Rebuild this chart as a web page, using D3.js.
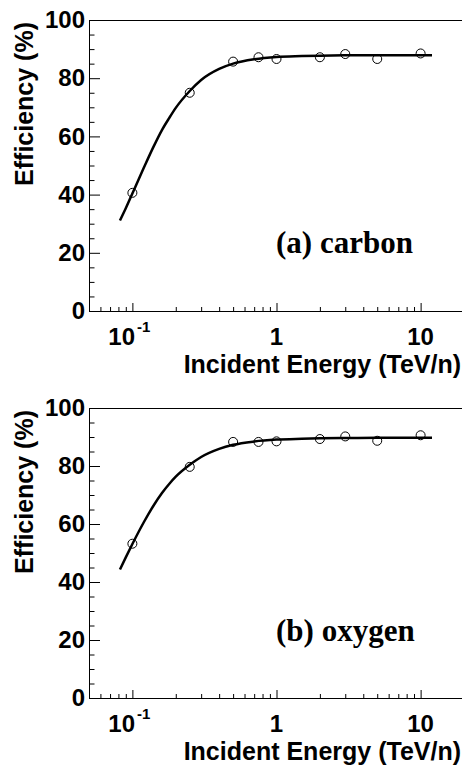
<!DOCTYPE html>
<html>
<head>
<meta charset="utf-8">
<script src="https://cdn.jsdelivr.net/npm/d3@7"></script>
<style>
	body { margin: 0; background: #fff; }
	svg { display: block; }
</style>
</head>
<body>
<div class="chart"></div>
<script>
// measured points (incident energy in TeV/n, efficiency in %)
const energies = [0.1, 0.25, 0.5, 0.75, 1, 2, 3, 5, 10];
const carbonEff = [40.6, 75.0, 85.7, 87.2, 86.6, 87.2, 88.3, 86.6, 88.5];
const oxygenEff = [53.2, 79.7, 88.3, 88.3, 88.5, 89.3, 90.2, 88.7, 90.6];

// fitted curves
const fitEnergies = [0.082, 0.09, 0.1, 0.12, 0.14, 0.16, 0.18, 0.2, 0.25, 0.3, 0.4, 0.5, 0.7, 1, 1.5, 2, 3, 5, 12];
const carbonFit = [31.1, 35.3, 40.4, 49.2, 56.4, 62.1, 66.3, 69.8, 75.6, 79.4, 83.2, 85.0, 86.5, 87.3, 87.6, 87.75, 87.85, 87.9, 87.9];
const oxygenFit = [44.3, 48.5, 53.1, 60.6, 66.3, 70.6, 73.8, 76.3, 80.4, 83.1, 85.9, 87.3, 88.45, 89.1, 89.4, 89.55, 89.63, 89.7, 89.7];

const panelLabels = ['(a) carbon', '(b) oxygen'];

// ticks
const xMajor = [0.1, 1, 10];
const xMinor = [0.06, 0.07, 0.08, 0.09, 0.2, 0.3, 0.4, 0.5, 0.6, 0.7, 0.8, 0.9, 2, 3, 4, 5, 6, 7, 8, 9];
const xTickText = ['10', '1', '10'];
const xTickExp = ['-1', '', ''];
const yMajor = [0, 20, 40, 60, 80, 100];
const yMinor = [5, 10, 15, 25, 30, 35, 45, 50, 55, 65, 70, 75, 85, 90, 95];

let w = 462;
let h = 766;
let left = 89;
let right = 464;
let sans = "'Liberation Sans', Arial, Helvetica, sans-serif";
let serif = "'Liberation Serif', 'Times New Roman', serif";

let svg = d3.select('.chart').append('svg').attr('width', w).attr('height', h);

let xScale = d3.scaleLog().domain([ 0.05, 20 ]).range([ left, right ]);

let panels = [
	{ top: 20, bottom: 311, eff: carbonEff, fit: carbonFit, label: panelLabels[0] },
	{ top: 408, bottom: 698, eff: oxygenEff, fit: oxygenFit, label: panelLabels[1] }
];

panels.forEach(function(p) {
	let yScale = d3.scaleLinear().domain([ 0, 100 ]).range([ p.bottom, p.top ]);
	let g = svg.append('g');

	// frame top and right
	g
		.append('path')
		.attr('d', 'M' + left + ',' + (p.top + 0.5) + 'H' + (right + 0.5) + 'V' + p.bottom)
		.attr('fill', 'none')
		.attr('stroke', '#000')
		.attr('stroke-width', 1);

	// y axis, ticks pointing inside
	g
		.append('g')
		.attr('transform', 'translate(' + left + ',0)')
		.call(d3.axisLeft(yScale).tickValues(yMinor).tickSize(-5.5).tickSizeOuter(0).tickFormat(''));
	g
		.append('g')
		.attr('transform', 'translate(' + left + ',0)')
		.attr('class', 'yaxis')
		.call(d3.axisLeft(yScale).tickValues(yMajor).tickSize(-11).tickSizeOuter(0).tickPadding(4));

	// x axis
	g
		.append('g')
		.attr('transform', 'translate(0,' + p.bottom + ')')
		.call(d3.axisBottom(xScale).tickValues(xMinor).tickSize(-4).tickSizeOuter(0).tickFormat(''));
	g
		.append('g')
		.attr('transform', 'translate(0,' + p.bottom + ')')
		.call(d3.axisBottom(xScale).tickValues(xMajor).tickSize(-8).tickSizeOuter(0).tickFormat(''));

	g.selectAll('.domain, .tick line').attr('stroke', '#000');
	g
		.selectAll('.yaxis text')
		.attr('font-family', sans)
		.attr('font-weight', 'bold')
		.attr('font-size', '24px')
		.attr('fill', '#000');

	// x tick labels
	let xl = g
		.selectAll('.xlab')
		.data(xMajor)
		.enter()
		.append('text')
		.attr('class', 'xlab')
		.attr('x', (d, i) => xScale(d) + (xTickExp[i] ? -3 : 0))
		.attr('y', p.bottom + 34)
		.attr('text-anchor', 'middle')
		.attr('font-family', sans)
		.attr('font-weight', 'bold')
		.attr('font-size', '24px');
	xl.append('tspan').text((d, i) => xTickText[i]);
	xl
		.append('tspan')
		.attr('dx', 2)
		.attr('dy', -13)
		.attr('font-size', '15px')
		.text((d, i) => xTickExp[i]);

	// axis titles
	g
		.append('text')
		.attr('x', 461)
		.attr('y', p.bottom + 62)
		.attr('text-anchor', 'end')
		.attr('font-family', sans)
		.attr('font-weight', 'bold')
		.attr('font-size', '25px')
		.text('Incident Energy (TeV/n)');

	g
		.append('text')
		.attr('transform', 'translate(33,' + (p.top + 2) + ') rotate(-90)')
		.attr('text-anchor', 'end')
		.attr('font-family', sans)
		.attr('font-weight', 'bold')
		.attr('font-size', '25px')
		.text('Efficiency (%)');

	// fitted curve
	let line = d3
		.line()
		.x((d, i) => xScale(fitEnergies[i]))
		.y((d) => yScale(d))
		.curve(d3.curveMonotoneX);
	g
		.append('path')
		.attr('d', line(p.fit))
		.attr('fill', 'none')
		.attr('stroke', '#000')
		.attr('stroke-width', 2.5);

	// data points
	g
		.selectAll('circle')
		.data(p.eff)
		.enter()
		.append('circle')
		.attr('cx', (d, i) => xScale(energies[i]))
		.attr('cy', (d) => yScale(d))
		.attr('r', 4.5)
		.attr('fill', 'none')
		.attr('stroke', '#000')
		.attr('stroke-width', 1);

	// panel label
	g
		.append('text')
		.attr('x', 276)
		.attr('y', p.top + 233)
		.attr('font-family', serif)
		.attr('font-weight', 'bold')
		.attr('font-size', '31px')
		.text(p.label);
});
</script>
</body>
</html>
